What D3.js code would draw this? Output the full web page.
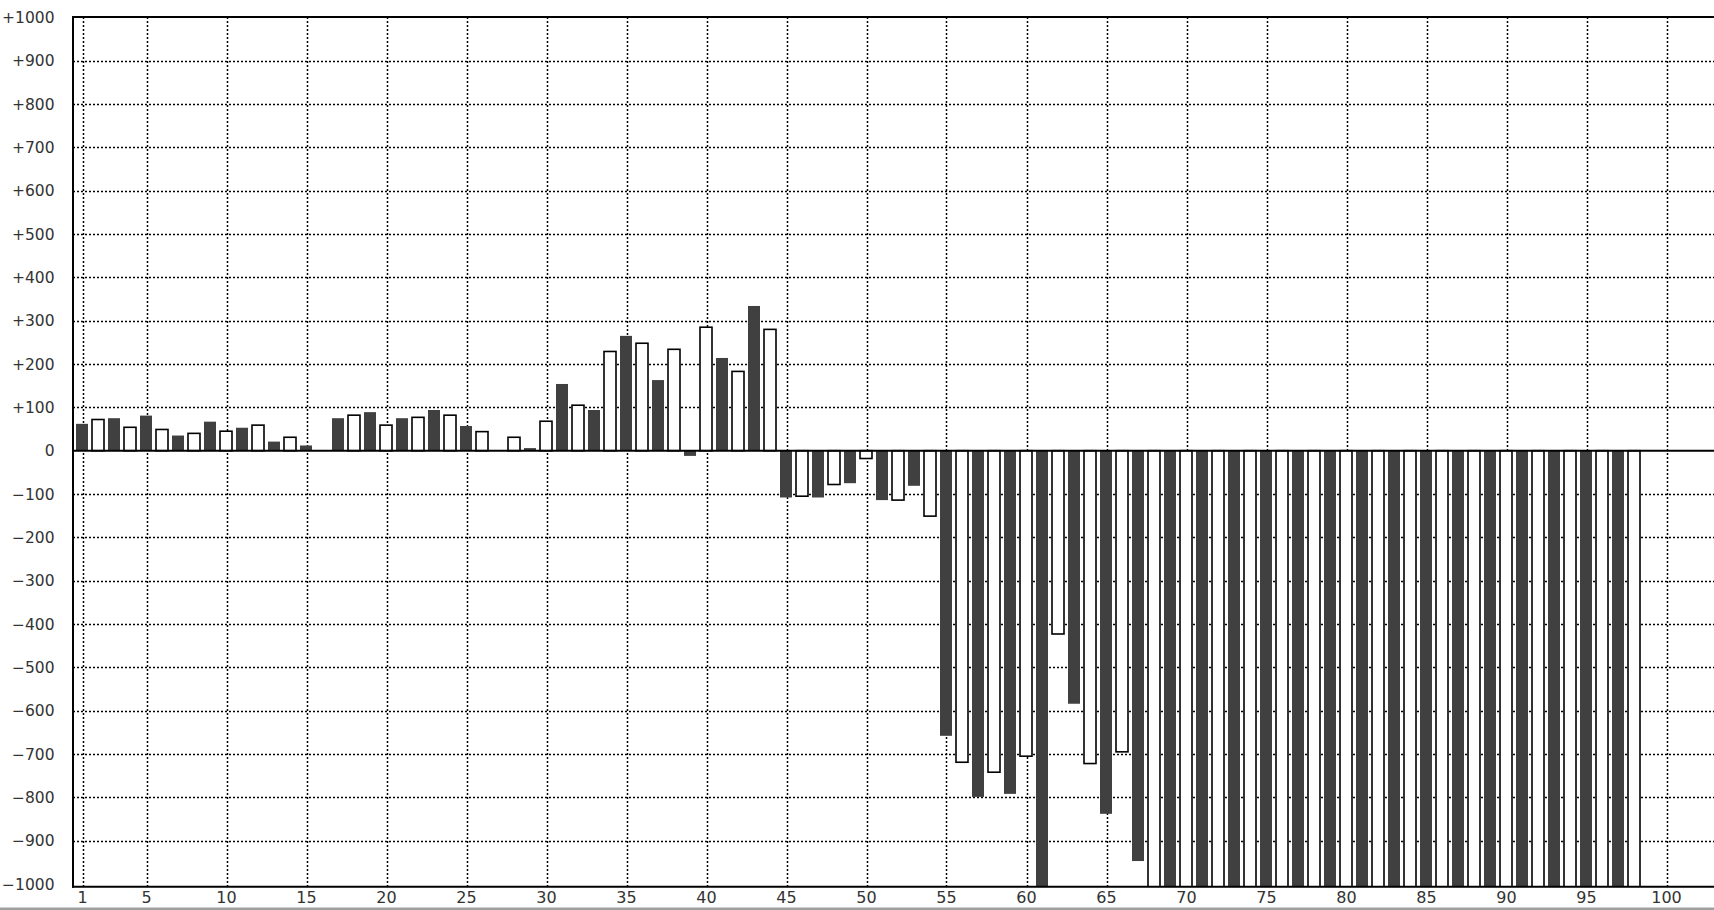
<!DOCTYPE html>
<html>
<head>
<meta charset="utf-8">
<script src="https://cdn.jsdelivr.net/npm/d3@7"></script>
<style>
  html, body { margin: 0; padding: 0; background: #ffffff; overflow: hidden; }
  svg { display: block; }
  text { font-family: "DejaVu Sans", "Liberation Sans", sans-serif; }
</style>
</head>
<body>
<svg id="chart" width="1714" height="910"></svg>
<script>
// ---- data ----
const darkCategories = [1,3,5,7,9,11,13,15,17,19,21,23,25,27,29,31,33,35,37,39,41,43,45,47,49,51,53,55,57,59,61,63,65,67,69,71,73,75,77,79,81,83,85,87,89,91,93,95,97];
const darkValues = [62,75,81,35,67,53,21,12,75,89,75,94,57,0,6,154,94,265,163,-12,214,334,-108,-108,-75,-114,-81,-658,-799,-792,-1010,-584,-838,-947,-1010,-1010,-1010,-1010,-1010,-1010,-1010,-1010,-1010,-1010,-1010,-1010,-1010,-1010,-1010];
const lightCategories = [2,4,6,8,10,12,14,16,18,20,22,24,26,28,30,32,34,36,38,40,42,44,46,48,50,52,54,56,58,60,62,64,66,68,70,72,74,76,78,80,82,84,86,88,90,92,94,96,98];
const lightValues = [72,54,49,40,45,59,31,0,82,59,77,82,44,31,68,105,229,248,234,285,183,280,-105,-78,-18,-114,-151,-719,-742,-705,-423,-722,-695,-1010,-1010,-1010,-1010,-1010,-1010,-1010,-1010,-1010,-1010,-1010,-1010,-1010,-1010,-1010,-1010];
const xTickValues = [1,5,10,15,20,25,30,35,40,45,50,55,60,65,70,75,80,85,90,95,100];
const yTickValues = [-1000,-900,-800,-700,-600,-500,-400,-300,-200,-100,0,100,200,300,400,500,600,700,800,900,1000];

// ---- layout ----
const W = 1714, H = 910;
const plotLeft = 73, plotTop = 17, plotBottom = 886.7, plotRight = 1716;
const svg = d3.select("#chart");

const x = d3.scaleLinear().domain([1, 100]).range([82.5, 1666.5]);
const y = d3.scaleLinear().domain([-1000, 1000]).range([884.0, 17.4]);
const barW = 12;

const fmt = v => v > 0 ? "+" + v : (v < 0 ? "\u2212" + Math.abs(v) : "0");

svg.append("defs").append("clipPath").attr("id", "plotclip")
  .append("rect").attr("x", plotLeft).attr("y", plotTop)
  .attr("width", plotRight - plotLeft).attr("height", plotBottom - plotTop);

// gridlines
const grid = svg.append("g").attr("clip-path", "url(#plotclip)");
grid.selectAll("line.v").data(xTickValues).join("line")
  .attr("x1", d => Math.round(x(d)) + 0.5).attr("x2", d => Math.round(x(d)) + 0.5)
  .attr("y1", plotTop).attr("y2", plotBottom)
  .attr("stroke", "#000").attr("stroke-width", 1.5).attr("stroke-dasharray", "2,2");
grid.selectAll("line.h").data(yTickValues.filter(v => v !== 0 && Math.abs(v) !== 1000)).join("line")
  .attr("x1", plotLeft).attr("x2", plotRight)
  .attr("y1", d => Math.round(y(d)) + 0.5).attr("y2", d => Math.round(y(d)) + 0.5)
  .attr("stroke", "#000").attr("stroke-width", 1.5).attr("stroke-dasharray", "2,2");

// bars
const bars = svg.append("g").attr("clip-path", "url(#plotclip)");
const darkData = darkCategories.map((c, i) => ({c, v: darkValues[i]}));
const lightData = lightCategories.map((c, i) => ({c, v: lightValues[i]}));

bars.selectAll("rect.dark").data(darkData).join("rect")
  .attr("class", "dark")
  .attr("x", d => Math.floor(x(d.c) - barW / 2))
  .attr("y", d => Math.min(y(d.v), y(0)))
  .attr("width", barW)
  .attr("height", d => Math.abs(y(d.v) - y(0)))
  .attr("fill", "#404040");

bars.selectAll("rect.light").data(lightData.filter(d => d.v !== 0)).join("rect")
  .attr("class", "light")
  .attr("x", d => Math.floor(x(d.c) - barW / 2))
  .attr("y", d => Math.min(y(d.v), y(0)))
  .attr("width", barW)
  .attr("height", d => Math.abs(y(d.v) - y(0)))
  .attr("fill", "#ffffff")
  .attr("stroke", "#000").attr("stroke-width", 1.6);

// zero line and frame
svg.append("line").attr("x1", plotLeft).attr("x2", plotRight)
  .attr("y1", y(0)).attr("y2", y(0)).attr("stroke", "#000").attr("stroke-width", 2);
svg.append("line").attr("x1", plotLeft - 1).attr("x2", plotRight)
  .attr("y1", plotTop).attr("y2", plotTop).attr("stroke", "#000").attr("stroke-width", 2);
svg.append("line").attr("x1", plotLeft - 1).attr("x2", plotRight)
  .attr("y1", plotBottom).attr("y2", plotBottom).attr("stroke", "#000").attr("stroke-width", 2);
svg.append("line").attr("x1", plotLeft).attr("x2", plotLeft)
  .attr("y1", plotTop - 1).attr("y2", plotBottom + 1).attr("stroke", "#000").attr("stroke-width", 2);

// y labels
svg.append("g").selectAll("text").data(yTickValues).join("text")
  .attr("x", 54.5).attr("y", d => y(d)).attr("dy", "0.36em")
  .attr("text-anchor", "end").attr("font-size", 15.5).attr("fill", "#333")
  .text(fmt);

// x labels
svg.append("g").selectAll("text").data(xTickValues).join("text")
  .attr("x", d => x(d)).attr("y", 903)
  .attr("text-anchor", "middle").attr("font-size", 16).attr("fill", "#333")
  .text(d => d);

// bottom grey strip
svg.append("rect").attr("x", 0).attr("y", 907.5).attr("width", W).attr("height", 2.5).attr("fill", "#a0a0a0");
</script>
</body>
</html>
